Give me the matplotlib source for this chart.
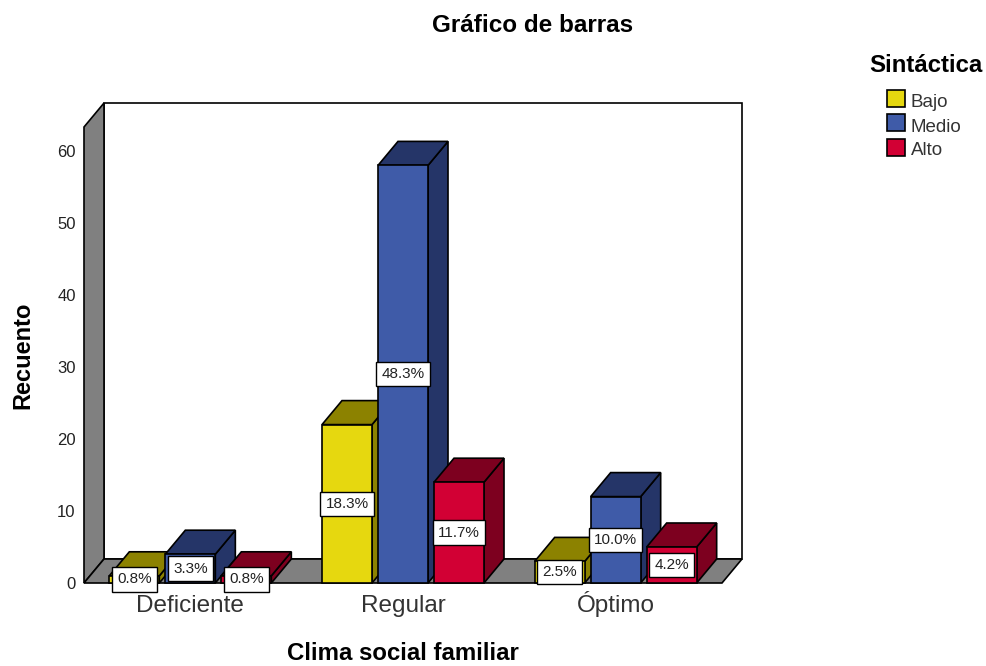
import matplotlib
matplotlib.use("Agg")
import matplotlib.pyplot as plt
from matplotlib.patches import Polygon, Rectangle

plt.rcParams["font.family"] = ["Liberation Sans", "DejaVu Sans"]

# data
categories = ["Deficiente", "Regular", "Óptimo"]
series_names = ["Bajo", "Medio", "Alto"]
bajo = [1, 22, 3]
medio = [4, 58, 12]
alto = [1, 14, 5]
bajo_pct = ["0.8%", "18.3%", "2.5%"]
medio_pct = ["3.3%", "48.3%", "10.0%"]
alto_pct = ["0.8%", "11.7%", "4.2%"]
y_ticks = [0, 10, 20, 30, 40, 50, 60]

front_colors = ["#E6D80F", "#3F5BA8", "#D20034"]
top_colors = ["#8C8200", "#253568", "#7D001F"]
side_colors = ["#8C8200", "#253568", "#7D001F"]
gray = "#808080"

W, H = 986, 666
fig = plt.figure(figsize=(W / 100, H / 100), dpi=100)
# front plane of the 3d box
left, right, bottom, top = 84, 722, 583, 127
ax = fig.add_axes([left / W, 1 - bottom / H, (right - left) / W, (bottom - top) / H])
ax.set_xlim(-0.5, 2.5)
ax.set_ylim(0, (bottom - top) / 7.2)
for s in ax.spines.values():
    s.set_visible(False)
ax.patch.set_alpha(0)

# depth of the box in data units
dx = 20 / ((right - left) / 3)
dy = 24 / 7.2
x0, x1 = ax.get_xlim()
ymax = ax.get_ylim()[1]


def poly(pts, color, z=1, lw=1.2):
    ax.add_patch(Polygon(pts, closed=True, facecolor=color, edgecolor="black",
                         linewidth=lw, clip_on=False, zorder=z))


# back wall, left wall, floor
poly([(x0 + dx, dy), (x1 + dx, dy), (x1 + dx, ymax + dy), (x0 + dx, ymax + dy)], "white")
poly([(x0, 0), (x0 + dx, dy), (x0 + dx, ymax + dy), (x0, ymax)], gray)
poly([(x0, 0), (x1, 0), (x1 + dx, dy), (x0 + dx, dy)], gray)

bar_w = 50 / 212.67
step = 56 / 212.67
series = [bajo, medio, alto]
labels = [bajo_pct, medio_pct, alto_pct]

z = 2
for c in range(len(categories)):
    for k in range(3):
        v = series[k][c]
        xl = c + (k - 1) * step - bar_w / 2
        xr = xl + bar_w
        poly([(xr, 0), (xr + dx, dy), (xr + dx, v + dy), (xr, v)], side_colors[k], z)
        poly([(xl, v), (xr, v), (xr + dx, v + dy), (xl + dx, v + dy)], top_colors[k], z)
        poly([(xl, 0), (xr, 0), (xr, v), (xl, v)], front_colors[k], z)
        z += 1

# data labels on top of everything
for c in range(len(categories)):
    for k in range(3):
        ax.text(c + (k - 1) * step, series[k][c] / 2, labels[k][c], ha="center", va="center",
                fontsize=11, color="#222222", zorder=50, clip_on=False,
                bbox=dict(boxstyle="square,pad=0.34", facecolor="white", edgecolor="black", linewidth=1))

ax.set_xticks(range(3))
ax.set_xticklabels(categories, fontsize=17.5, color="#333333", va="baseline")
ax.set_yticks(y_ticks)
ax.set_yticklabels([str(t) for t in y_ticks], fontsize=12, color="#222222")
ax.tick_params(axis="both", length=0)
ax.tick_params(axis="x", pad=21)
ax.tick_params(axis="y", pad=6)

fig.text(533 / W, 1 - 26 / H, "Gráfico de barras", ha="center", va="center", fontsize=17.5, fontweight="bold")
fig.text(403 / W, 1 - 654 / H, "Clima social familiar", ha="center", va="center", fontsize=17.3, fontweight="bold")
fig.text(23 / W, 1 - 355 / H, "Recuento", ha="center", va="center", rotation=90, fontsize=17, fontweight="bold")

# legend
fig.text(869 / W, 1 - 66 / H, "Sintáctica", ha="left", va="center", fontsize=17.3, fontweight="bold")
legend_y = [90, 114, 139]
legend_base_y = [107, 132, 155]
for name, col, ly, ty in zip(series_names, front_colors, legend_y, legend_base_y):
    fig.add_artist(Rectangle((887 / W, 1 - (ly + 17) / H), 18 / W, 17 / H, transform=fig.transFigure,
                             facecolor=col, edgecolor="black", linewidth=1.2))
    fig.text(911 / W, 1 - ty / H, name, ha="left", va="baseline", fontsize=13.5, color="#333333")

fig.savefig("out.png", dpi=100)
